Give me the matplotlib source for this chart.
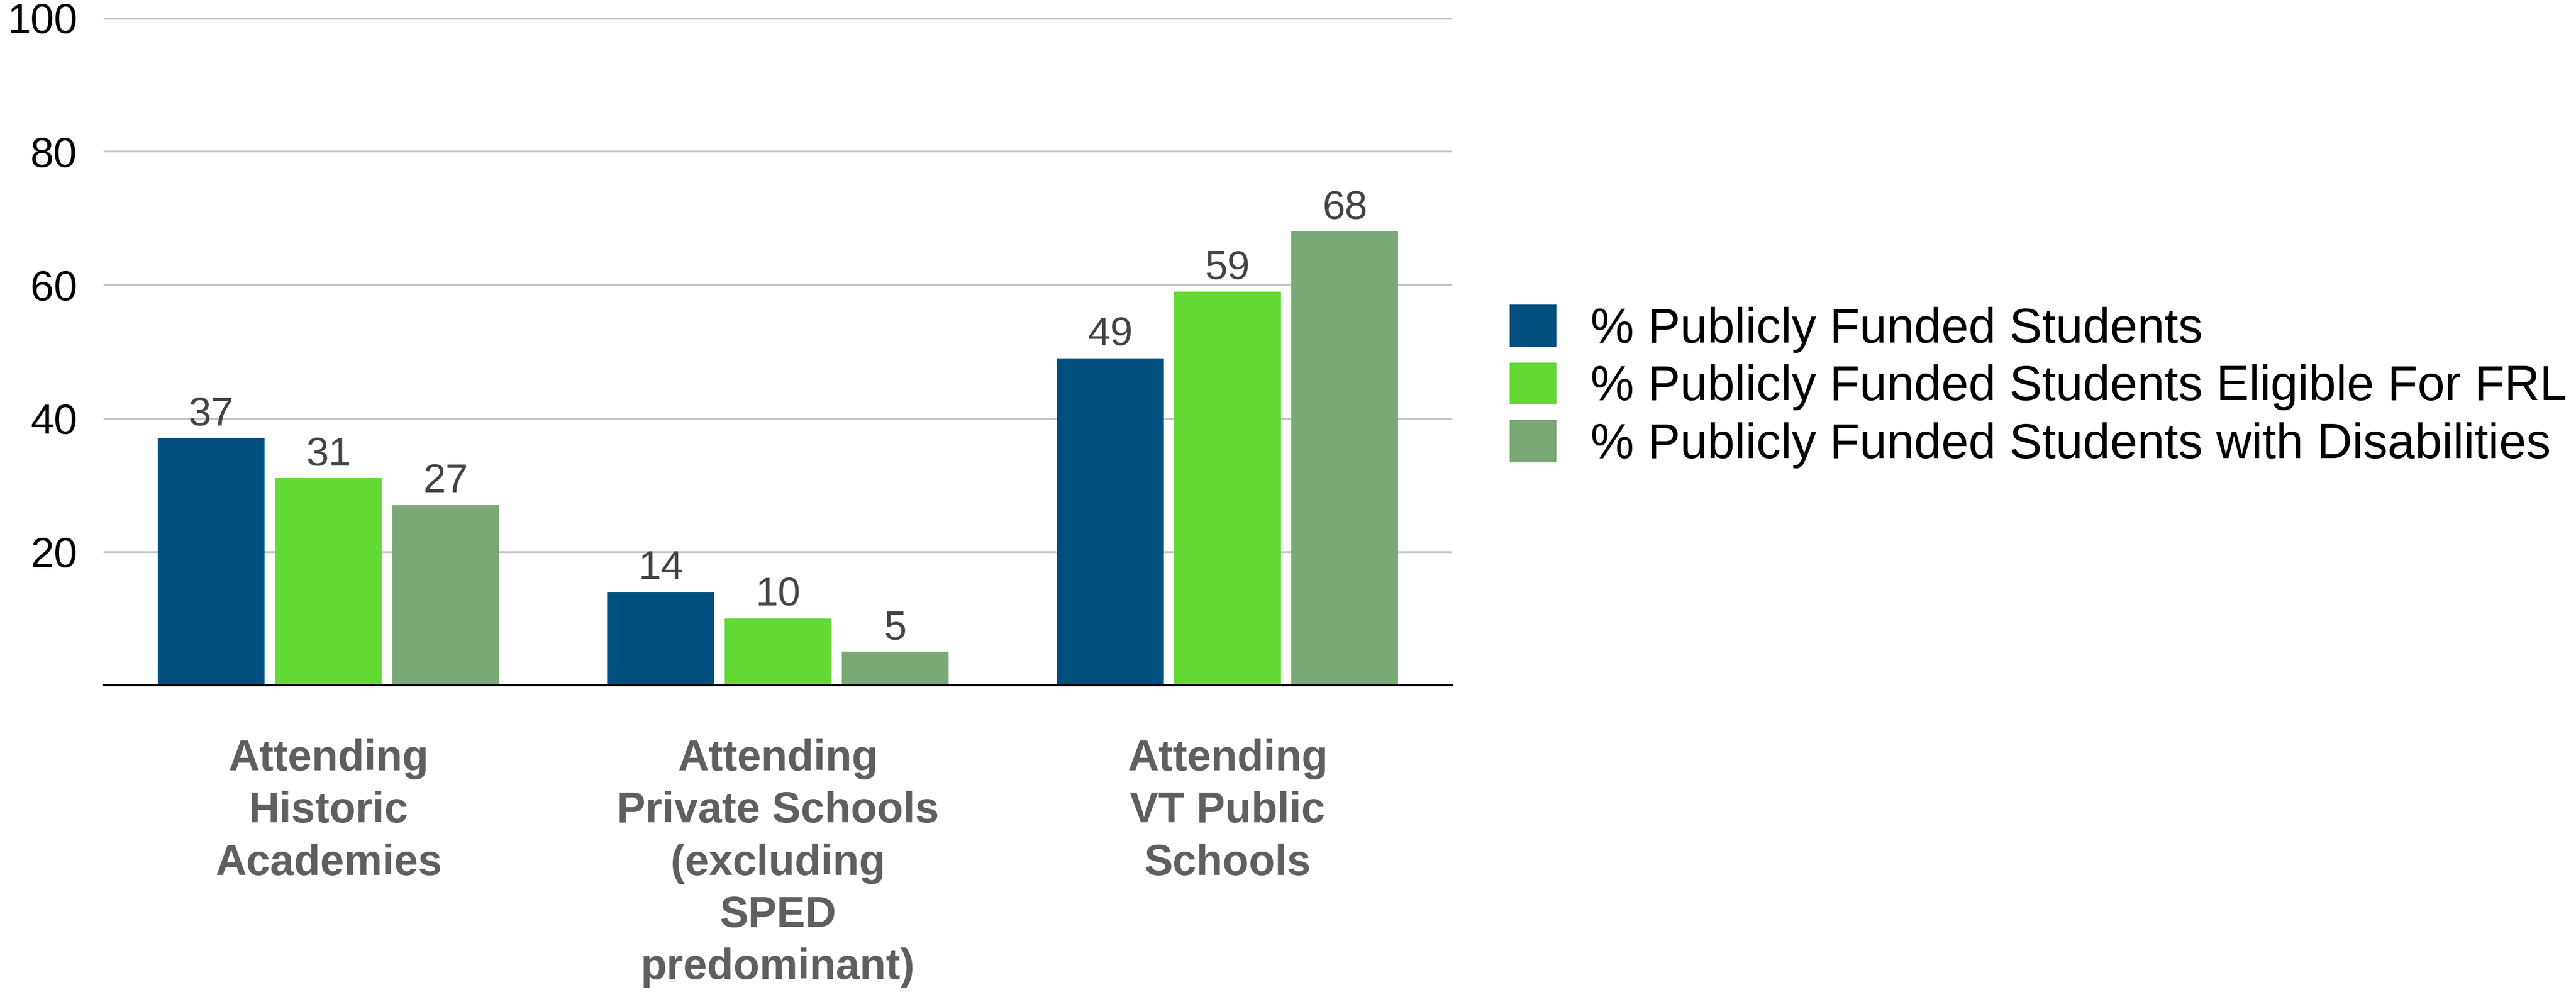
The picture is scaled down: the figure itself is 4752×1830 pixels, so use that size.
import matplotlib.pyplot as plt
import numpy as np

plt.rcParams['font.family'] = ['Liberation Sans', 'DejaVu Sans']

# Data
categories = ['Attending\nHistoric\nAcademies',
              'Attending\nPrivate Schools\n(excluding\nSPED\npredominant)',
              'Attending\nVT Public\nSchools']
series_names = ['% Publicly Funded Students',
                '% Publicly Funded Students Eligible For FRL',
                '% Publicly Funded Students with Disabilities']
funded = [37, 14, 49]
frl = [31, 10, 59]
disabilities = [27, 5, 68]
colors = ['#004f7e', '#63d935', '#79a975']
y_ticks = [20, 40, 60, 80, 100]

fig = plt.figure(figsize=(47.52, 18.30), dpi=100)
ax = fig.add_axes([0.0402, 0.3093, 0.5236, 0.6727])

x = np.arange(len(categories))
width = 0.2375
step = 0.261

for i, (vals, name, col) in enumerate(zip([funded, frl, disabilities], series_names, colors)):
    bars = ax.bar(x + (i - 1) * step, vals, width, color=col, label=name, zorder=3)
    ax.bar_label(bars, padding=6, fontsize=54, color='#444444')

# Axes styling
ax.set_xlim(-0.5, 2.5)
ax.set_ylim(0, 100)
ax.set_yticks(y_ticks)
ax.grid(axis='y', color='#c4c4c4', linewidth=2.5, zorder=0)
for side in ['top', 'right', 'left']:
    ax.spines[side].set_visible(False)
ax.spines['bottom'].set_linewidth(3)
ax.spines['bottom'].set_color('black')
ax.spines['bottom'].set_zorder(4)
ax.tick_params(axis='y', length=0, pad=35, labelsize=56, labelcolor='black')
ax.set_xticks(x)
ax.set_xticklabels(categories, fontsize=57, fontweight='bold', color='#5f5f5f',
                   linespacing=1.37)
ax.tick_params(axis='x', length=0, pad=71)

# Legend
fig.legend(loc='center left', bbox_to_anchor=(2785 / 4752, 1 - 713 / 1830),
           frameon=False, fontsize=65, handlelength=0.95, handleheight=0.95,
           labelspacing=0.19, handletextpad=0.70, borderpad=0, borderaxespad=0)

fig.savefig('out.png', dpi=100)
